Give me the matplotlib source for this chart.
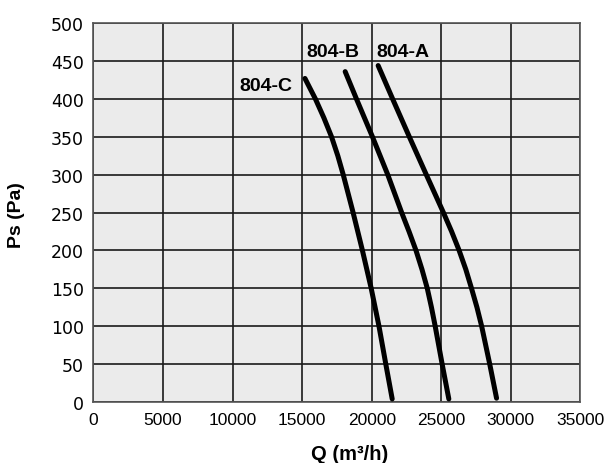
import numpy as np
import matplotlib.pyplot as plt

plt.rcParams['font.family'] = ['Liberation Sans', 'DejaVu Sans']

# --- fan curves (Q in m3/h, Ps in Pa) ---
q_804c = [15200, 15950, 16560, 17110, 17560, 17950, 18660, 19330, 19960, 20520, 21010, 21470]
ps_804c = [427, 400, 375, 350, 325, 300, 250, 200, 150, 100, 50, 4]

q_804b = [18090, 18900, 20050, 21150, 22150, 22680, 23180, 23610, 23990, 24290, 24560,
          25060, 25540]
ps_804b = [436, 400, 350, 300, 250, 225, 200, 175, 150, 125, 100, 50, 4]

q_804a = [20460, 21500, 22700, 23920, 25150, 25740, 26280, 26760, 27170, 27560, 27900,
          28480, 28970]
ps_804a = [444, 400, 350, 300, 250, 225, 200, 175, 150, 125, 100, 50, 5]

curves = [
    ('804-C', q_804c, ps_804c, (14300, 418), 'right'),
    ('804-B', q_804b, ps_804b, (15300, 462), 'left'),
    ('804-A', q_804a, ps_804a, (20300, 462), 'left'),
]

x_ticks = np.arange(0, 35001, 5000)
y_ticks = np.arange(0, 501, 50)

fig = plt.figure(figsize=(6.11, 4.64), dpi=100)
ax = fig.add_axes([0.153, 0.1315, 0.797, 0.8165])
ax.set_facecolor('#ebebeb')

for name, q, ps, (lx, ly), ha in curves:
    ax.plot(q, ps, color='black', linewidth=3.6, solid_capstyle='round',
            solid_joinstyle='round', zorder=3)
    ax.text(lx, ly, name, ha=ha, va='center', fontsize=14, fontweight='bold')

ax.set_xlim(0, 35000)
ax.set_ylim(0, 500)
ax.set_xticks(x_ticks)
ax.set_yticks(y_ticks)
ax.tick_params(length=0, pad=7)
ax.tick_params(axis='x', labelsize=12.5)
for lbl in ax.get_yticklabels():
    lbl.set_fontfamily('DejaVu Sans')
    lbl.set_fontsize(12.5)
ax.grid(True, color='#1a1a1a', linewidth=1.2)
ax.set_axisbelow(True)
for s in ax.spines.values():
    s.set_color('#555555')
    s.set_linewidth(1.2)

ax.set_xlabel('Q (m³/h)', fontsize=14.5, fontweight='bold')
ax.set_ylabel('Ps (Pa)', fontsize=14, fontweight='bold')
ax.xaxis.set_label_coords(0.526, -0.111)
ax.yaxis.set_label_coords(-0.141, 0.496)

plt.savefig('out.png', dpi=100)
